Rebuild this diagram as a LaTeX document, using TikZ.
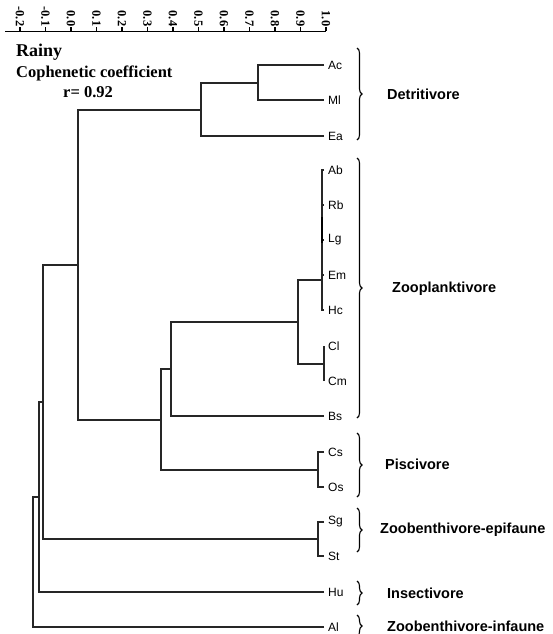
\documentclass[tikz,border=0pt]{standalone}
\usepackage{fontspec}
\setmainfont{Liberation Serif}
\setsansfont{Liberation Sans}
\usetikzlibrary{decorations.pathreplacing}
\begin{document}
\begin{tikzpicture}[x=1pt,y=-1pt,
  br/.style={line width=1.5pt,color=black!85},
  leaf/.style={anchor=west,inner sep=0pt,font=\sffamily\fontsize{12}{12}\selectfont},
  grp/.style={anchor=west,inner sep=0pt,font=\sffamily\bfseries\fontsize{14.5}{14.5}\selectfont},
  brc/.style={decorate,decoration={brace,amplitude=5pt},line width=1.1pt},
  tick/.style={line width=1.1pt},
  ticklab/.style={rotate=-90,anchor=east,inner sep=0pt,font=\bfseries\fontsize{12.5}{12.5}\selectfont},
  ttl/.style={anchor=west,inner sep=0pt,font=\bfseries\fontsize{16.5}{16.5}\selectfont}]
\useasboundingbox (0,0) rectangle (553,634);

% axis
\coordinate (axL) at (5,31.5);
\coordinate (axR) at (326,31.5);
\draw[tick] (axL) -- (axR);
\foreach \v/\t [count=\i from 0] in {-0.2/-0.2,-0.1/-0.1,0.0/0.0,0.1/0.1,0.2/0.2,0.3/0.3,0.4/0.4,0.5/0.5,0.6/0.6,0.7/0.7,0.8/0.8,0.9/0.9,1.0/1.0}{
  \coordinate (tk\i) at ({71+255*\v},31.5);
  \coordinate (tt\i) at ({71+255*\v},27.5);
  \draw[tick] (tk\i) -- (tt\i);
  \node[ticklab] (tl\i) at ({71+255*\v},26.5) {\t};
}

% titles
\node[ttl,font=\bfseries\fontsize{18}{18}\selectfont] (rainy) at (16,52) {Rainy};
\node[ttl] (coph) at (16,73) {Cophenetic coefficient};
\node[ttl] (rval) at (63,92) {r= 0.92};

% leaf ends and labels
\foreach \n/\y in {Ac/65,Ml/100,Ea/136,Ab/170,Rb/205,Lg/240,Em/275,Hc/310,Cl/346,Cm/381,Bs/416,Cs/452,Os/487,Sg/522,St/556,Hu/592,Al/627}{
  \coordinate (e\n) at (324,\y);
  \node[leaf] (l\n) at (328,\y) {\n};
}

% internal nodes
\coordinate (kAcMl) at (258,83);
\coordinate (kD) at (201,110);
\coordinate (kZ1) at (322,280);
\coordinate (kZ2) at (324,364);
\coordinate (kZ3) at (298,322);
\coordinate (kZ4) at (171,369);
\coordinate (kP) at (318,470);
\coordinate (kZP) at (161,420);
\coordinate (kDZP) at (78,265);
\coordinate (kSS) at (318,539);
\coordinate (kA) at (43,402);
\coordinate (kB) at (39,497);
\coordinate (kC) at (33,562);

\draw[br] (eAc) -| (kAcMl);
\draw[br] (eMl) -| (kAcMl);
\draw[br] (kAcMl) -| (kD);
\draw[br] (eEa) -| (kD);
\foreach \n in {Ab,Rb,Lg,Em,Hc}{\draw[br] (e\n) -| (kZ1);}
\coordinate (thkA) at (322,217);
\coordinate (thkB) at (322,243);
\draw[line width=2.8pt,color=black] (thkA) -- (thkB);
\draw[br] (eCl) -| (kZ2);
\draw[br] (eCm) -| (kZ2);
\draw[br] (kZ1) -| (kZ3);
\draw[br] (kZ2) -| (kZ3);
\draw[br] (kZ3) -| (kZ4);
\draw[br] (eBs) -| (kZ4);
\draw[br] (eCs) -| (kP);
\draw[br] (eOs) -| (kP);
\draw[br] (kZ4) -| (kZP);
\draw[br] (kP) -| (kZP);
\draw[br] (kD) -| (kDZP);
\draw[br] (kZP) -| (kDZP);
\draw[br] (eSg) -| (kSS);
\draw[br] (eSt) -| (kSS);
\draw[br] (kDZP) -| (kA);
\draw[br] (kSS) -| (kA);
\draw[br] (kA) -| (kB);
\draw[br] (eHu) -| (kB);
\draw[br] (kB) -| (kC);
\draw[br] (eAl) -| (kC);

% braces
\coordinate (b1a) at (357,48);  \coordinate (b1b) at (357,140);
\coordinate (b2a) at (357,158); \coordinate (b2b) at (357,418);
\coordinate (b3a) at (357,433); \coordinate (b3b) at (357,497);
\coordinate (b4a) at (357,508); \coordinate (b4b) at (357,552);
\coordinate (b5a) at (357,581); \coordinate (b5b) at (357,605);
\coordinate (b6a) at (357,615); \coordinate (b6b) at (357,637);
\draw[brc] (b1a) -- (b1b);
\draw[brc] (b2a) -- (b2b);
\draw[brc] (b3a) -- (b3b);
\draw[brc] (b4a) -- (b4b);
\draw[brc] (b5a) -- (b5b);
\draw[brc] (b6a) -- (b6b);

\node[grp] (gD) at (387,94) {Detritivore};
\node[grp] (gZ) at (392,289) {Zooplanktivore};
\node[grp] (gP) at (385,464) {Piscivore};
\node[grp] (gE) at (380,530) {Zoobenthivore-epifaune};
\node[grp] (gI) at (387,593) {Insectivore};
\node[grp] (gF) at (387,626) {Zoobenthivore-infaune};
\end{tikzpicture}
\end{document}
